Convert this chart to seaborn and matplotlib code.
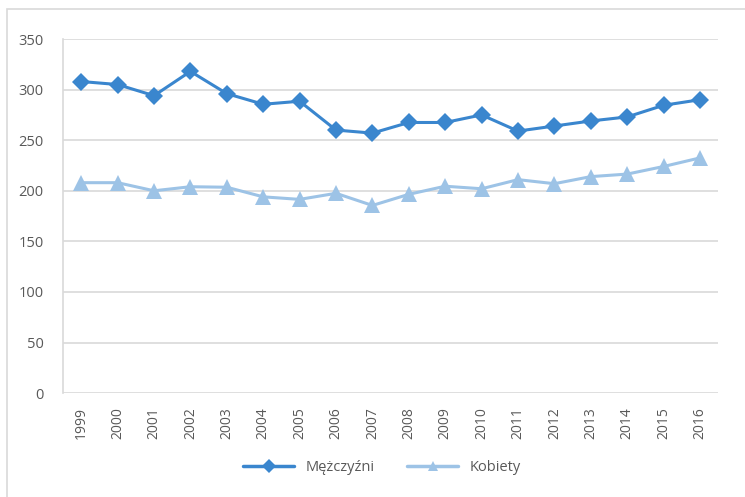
import pandas as pd
import matplotlib.pyplot as plt
import seaborn as sns
from matplotlib.patches import Rectangle

years = [str(y) for y in range(1999, 2017)]
men = [308, 305, 294, 318, 296, 285.5, 288.5, 260, 257, 267.5, 267.5, 275, 259, 264, 269, 273, 284.5, 290]
women = [208, 208, 200, 204, 203.5, 194, 191.5, 197.5, 185.5, 196.5, 204.5, 202, 211, 207, 214, 216.5, 224, 232.5]
series_names = ["Mężczyźni", "Kobiety"]

df = pd.DataFrame({"Rok": years, series_names[0]: men, series_names[1]: women})
long = df.melt(id_vars="Rok", var_name="Płeć", value_name="Wartość")

sns.set_theme(style="white")
plt.rcParams["font.family"] = ["Open Sans", "DejaVu Sans"]

text_color = "#595959"
grid_color = "#D9D9D9"

fig = plt.figure(figsize=(7.45, 4.97), dpi=100)
ax = fig.add_axes([0.0846, 0.209, 0.8794, 0.7125])

# outer chart-area frame
fig.patches.append(Rectangle((0.009, -0.1), 1.2, 1.082, transform=fig.transFigure,
                             fill=False, edgecolor="#D9D9D9", linewidth=1.2))

sns.lineplot(data=long, x="Rok", y="Wartość", hue="Płeć", style="Płeć",
             palette=["#3A86CE", "#9DC3E6"], markers=["D", "^"], dashes=False,
             markersize=9, linewidth=2.2, markeredgewidth=0, ax=ax)
# triangles look a bit larger in the original
ax.lines[1].set_markersize(11)

ax.set_ylim(0, 350)
ax.set_xlim(-0.5, len(years) - 0.5)
ax.set_yticks(range(0, 351, 50))
ax.yaxis.grid(True, color=grid_color, linewidth=1.2)
ax.set_axisbelow(True)
for s in ["top", "right", "bottom"]:
    ax.spines[s].set_visible(False)
ax.spines["left"].set_color(grid_color)
ax.spines["left"].set_linewidth(1.2)
ax.set_xlabel("")
ax.set_ylabel("")
ax.tick_params(axis="x", rotation=90, labelsize=10, colors=text_color, length=0, pad=10)
ax.tick_params(axis="y", labelsize=10.5, colors=text_color, length=0, pad=14)

handles, labels = ax.get_legend_handles_labels()
for h in handles:
    h.set_markersize(7)
    h.set_linewidth(2.5)
leg = ax.legend(handles, labels, loc="center", ncol=2, frameon=False,
                fontsize=10.5, handlelength=3.5, columnspacing=2.2,
                labelcolor=text_color)
leg.set_bbox_to_anchor((0.513, 0.06), transform=fig.transFigure)

fig.savefig("out.png", dpi=100)
